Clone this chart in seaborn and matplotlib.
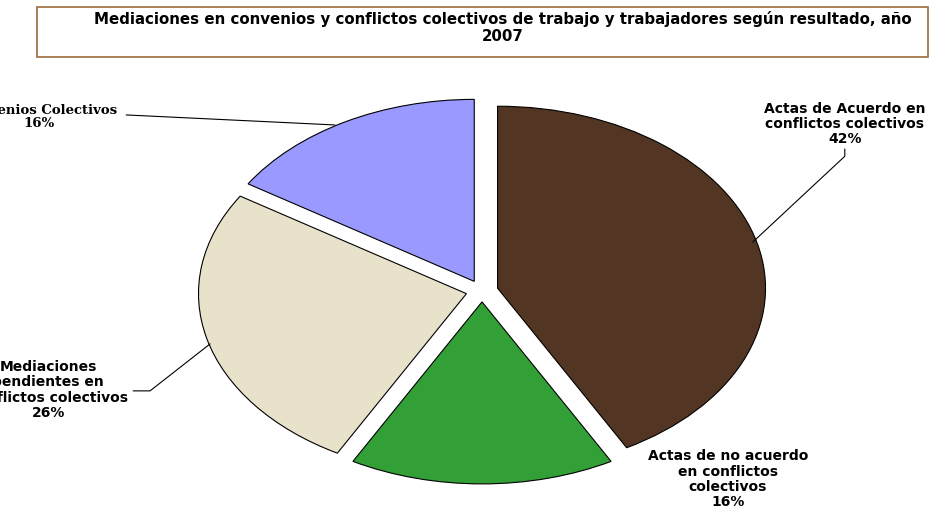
import matplotlib
matplotlib.use('Agg')
import matplotlib.pyplot as plt
import seaborn as sns
from matplotlib.patches import Rectangle

# data
categorias = ['Actas de Acuerdo en\nconflictos colectivos',
              'Actas de no acuerdo\nen conflictos\ncolectivos',
              'Mediaciones\npendientes en\nconflictos colectivos',
              'Convenios Colectivos']
porcentajes = [42, 16, 26, 16]
colores = ['#523523', '#33a037', '#e8e2ca', '#9999ff']
titulo = ('Mediaciones en convenios y conflictos colectivos de trabajo y '
          'trabajadores según resultado, año\n2007')

sns.set_theme(style='white')
plt.rcParams['text.color'] = 'black'

fig = plt.figure(figsize=(9.3, 5.1), dpi=100)
ax = fig.add_axes([0, 0, 1, 1])

ax.pie(porcentajes, colors=colores, startangle=90, counterclock=False,
       explode=[0.06] * 4,
       wedgeprops=dict(edgecolor='black', linewidth=0.8))
ax.set_aspect('auto')
ax.set_xlim(-1.799, 1.672)
ax.set_ylim(-1.198, 1.604)
ax.axis('off')

# label positions (center of text) and leader lines
label_pos = [(1.354, 0.923), (0.918, -1.03), (-1.619, -0.538), (-1.655, 0.962)]
leaders = [[(1.354, 0.78), (1.354, 0.74), (1.011, 0.269)],
           None,
           [(-1.302, -0.549), (-1.239, -0.549), (-1.015, -0.291)],
           [(-1.328, 0.967), (-0.549, 0.912)]]

for i, (cat, pct) in enumerate(zip(categorias, porcentajes)):
    x, y = label_pos[i]
    if i == 3:
        ax.text(x, y, f'{cat}\n{pct}%', ha='center', va='center',
                fontsize=9.5, fontweight='bold', family='DejaVu Serif',
                linespacing=1.05)
    else:
        ax.text(x, y, f'{cat}\n{pct}%', ha='center', va='center',
                fontsize=10, fontweight='bold', family='DejaVu Sans',
                linespacing=1.12)
    if leaders[i]:
        xs, ys = zip(*leaders[i])
        ax.plot(xs, ys, color='black', lw=0.8)

# title box
fig.patches.append(Rectangle((37 / 930, 1 - 58 / 510), 891 / 930, 50 / 510,
                             transform=fig.transFigure, fill=False,
                             edgecolor='#9c6a3c', linewidth=1.2))
fig.text(503 / 930, 1 - 11 / 510, titulo, ha='center', va='top',
         fontsize=10.8, fontweight='bold', family='DejaVu Sans',
         linespacing=1.2)

fig.savefig('out.png', dpi=100)
